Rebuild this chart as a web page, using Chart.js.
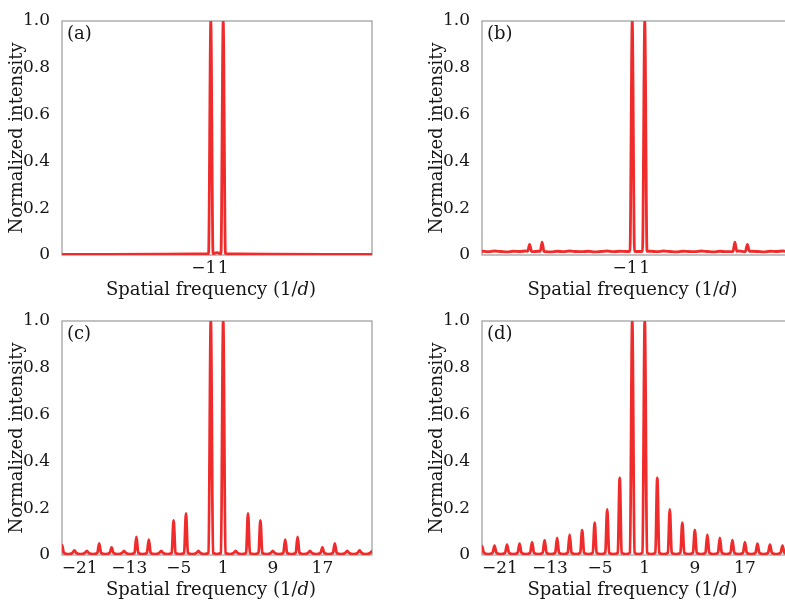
<!DOCTYPE html>
<html>
<head>
<meta charset="utf-8">
<script src="https://cdn.jsdelivr.net/npm/chart.js@4.4.0/dist/chart.umd.min.js"></script>
<style>
    html, body { margin: 0; padding: 0; background: #fff; overflow: hidden; width: 785px; height: 601px; }
    #wrap { position: relative; width: 785px; height: 601px; overflow: hidden; }
    canvas { position: absolute; }
</style>
</head>
<body>
<div id="wrap">
    <canvas id="panelA" width="390" height="300" style="left:0;top:0"></canvas>
    <canvas id="panelB" width="393" height="300" style="left:420px;top:0"></canvas>
    <canvas id="panelC" width="390" height="300" style="left:0;top:300px"></canvas>
    <canvas id="panelD" width="393" height="300" style="left:420px;top:300px"></canvas>
</div>
<script>
// axis ranges and ticks
const xMin = -25, xMax = 25;
const yTicks = [0, 0.2, 0.4, 0.6, 0.8, 1.0];
const xTicksTop = [-1, 1];
const xTicksBottom = [-21, -13, -5, 1, 9, 17];

// (a) only the two first orders
const peakXA = [-1, 1];
const peakYA = [1, 1];
const valleyXA = [-25, 0, 25];
const valleyYA = [0.003, 0.01, 0.003];

// (b) noisy floor with two weak satellite pairs
const peakXB = [-17.4, -15.4, -1, 1, 15.4, 17.4];
const peakYB = [0.045, 0.055, 1, 1, 0.055, 0.045];
const valleyXB = [-25, -24, -23, -22, -21, -20, -19, -18, -17, -16, -15, -14, -13, -12, -11, -10, -9, -8, -7, -6, -5, -4, -3, -2,
    0, 2, 3, 4, 5, 6, 7, 8, 9, 10, 11, 12, 13, 14, 15, 16, 17, 18, 19, 20, 21, 22, 23, 24, 25];
const valleyYB = [0.016, 0.014, 0.017, 0.015, 0.013, 0.016, 0.015, 0.017, 0.014, 0.016, 0.015, 0.013, 0.016, 0.014, 0.017, 0.015, 0.014, 0.016, 0.013, 0.015, 0.017, 0.014, 0.016, 0.015,
    0.015, 0.016, 0.014, 0.017, 0.015, 0.013, 0.016, 0.015, 0.014, 0.017, 0.015, 0.013, 0.016, 0.014, 0.015, 0.017, 0.014, 0.016, 0.015, 0.013, 0.016, 0.015, 0.017, 0.014, 0.016];

// (c) odd orders, irregular envelope
const peakXC = [-25, -23, -21, -19, -17, -15, -13, -11, -9, -7, -5, -3, -1, 1, 3, 5, 7, 9, 11, 13, 15, 17, 19, 21, 23, 25];
const peakYC = [0.042, 0.02, 0.018, 0.05, 0.032, 0.018, 0.077, 0.066, 0.018, 0.148, 0.178, 0.018, 1, 1, 0.018, 0.178, 0.148, 0.018, 0.066, 0.077, 0.018, 0.032, 0.05, 0.018, 0.02, 0.015];
const valleyXC = [-24, -22, -20, -18, -16, -14, -12, -10, -8, -6, -4, -2, 0, 2, 4, 6, 8, 10, 12, 14, 16, 18, 20, 22, 24];
const valleyYC = [0.004, 0.004, 0.004, 0.004, 0.004, 0.004, 0.004, 0.004, 0.004, 0.004, 0.004, 0.004, 0.004, 0.004, 0.004, 0.004, 0.004, 0.004, 0.004, 0.004, 0.004, 0.004, 0.004, 0.004, 0.004];

// (d) odd orders, smoothly decaying envelope
const peakXD = [-25, -23, -21, -19, -17, -15, -13, -11, -9, -7, -5, -3, -1, 1, 3, 5, 7, 9, 11, 13, 15, 17, 19, 21, 23, 25];
const peakYD = [0.038, 0.04, 0.044, 0.049, 0.055, 0.063, 0.073, 0.087, 0.106, 0.138, 0.195, 0.33, 1, 1, 0.33, 0.195, 0.138, 0.106, 0.087, 0.073, 0.063, 0.055, 0.049, 0.044, 0.04, 0.038];
const valleyXD = valleyXC;
const valleyYD = [0.004, 0.004, 0.004, 0.004, 0.004, 0.004, 0.004, 0.004, 0.004, 0.004, 0.004, 0.004, 0.004, 0.004, 0.004, 0.004, 0.004, 0.004, 0.004, 0.004, 0.004, 0.004, 0.004, 0.004, 0.004];

const RED = '#ef2b2b';
const INK = '#161616';
const FRAME = '#9a9a9a';
const FONT = 'DejaVu Serif';

function buildCurve(px, py, vx, vy, foot) {
    const pts = vx.map((x, i) => ({ x, y: vy[i] }));
    px.forEach((x, i) => {
        const half = py[i] >= 1 ? 0.36 : 0.3;
        pts.push({ x: x - half, y: foot }, { x, y: py[i] }, { x: x + half, y: foot });
    });
    return pts.sort((a, b) => a.x - b.x);
}

const fmtY = (v) => (v === 0 ? '0' : v.toFixed(1));

const framePlugin = {
    id: 'frame',
    beforeDatasetsDraw(chart) {
        const a = chart.chartArea, c = chart.ctx;
        c.save();
        c.strokeStyle = FRAME;
        c.lineWidth = 1.2;
        c.strokeRect(a.left, a.top, a.right - a.left, a.bottom - a.top);
        c.restore();
    }
};

// panel tag, x tick labels (digits centred on the tick, minus hanging left) and x title
const textPlugin = {
    id: 'texts',
    afterDraw(chart, args, opts) {
        const a = chart.chartArea, c = chart.ctx, xs = chart.scales.x;
        c.save();
        c.fillStyle = INK;
        c.textBaseline = 'middle';
        c.textAlign = 'left';
        c.font = `18px ${FONT}`;
        c.fillText(opts.tag, a.left + 5, a.top + 13);

        c.font = `17px ${FONT}`;
        const minusW = c.measureText('\u2212').width;
        opts.xTicks.forEach((v) => {
            const px = xs.getPixelForValue(v);
            const digits = String(Math.abs(v));
            const wd = c.measureText(digits).width;
            c.fillText(digits, px - wd / 2, a.bottom + 14);
            if (v < 0) c.fillText('\u2212', px - wd / 2 - minusW, a.bottom + 14);
        });

        const p1 = 'Spatial frequency (1/', p2 = 'd', p3 = ')';
        const nf = `18px ${FONT}`, itf = `italic 18px ${FONT}`;
        c.font = nf; const w1 = c.measureText(p1).width, w3 = c.measureText(p3).width;
        c.font = itf; const w2 = c.measureText(p2).width;
        let x = (a.left + a.right) / 2 - 6 - (w1 + w2 + w3) / 2;
        const y = a.bottom + 35;
        c.font = nf; c.fillText(p1, x, y); x += w1;
        c.font = itf; c.fillText(p2, x, y); x += w2;
        c.font = nf; c.fillText(p3, x, y);
        c.restore();
    }
};

function makeChart(id, tag, xTicks, points) {
    const el = document.getElementById(id);
    return new Chart(el.getContext('2d'), {
        type: 'line',
        data: {
            datasets: [{
                data: points,
                borderColor: RED,
                borderWidth: 2.8,
                pointRadius: 0,
                fill: false,
                cubicInterpolationMode: 'monotone'
            }]
        },
        options: {
            responsive: false,
            animation: false,
            events: [],
            layout: { padding: { top: 21, right: 18, left: 0, bottom: 0 } },
            plugins: { legend: { display: false }, tooltip: { enabled: false }, texts: { tag, xTicks } },
            scales: {
                x: {
                    type: 'linear', min: xMin, max: xMax,
                    grid: { display: false }, border: { display: false },
                    afterBuildTicks: (s) => { s.ticks = xTicks.map((v) => ({ value: v })); },
                    afterFit: (s) => { s.height = 45; },
                    ticks: { display: false }
                },
                y: {
                    min: 0, max: 1,
                    grid: { display: false }, border: { display: false },
                    afterBuildTicks: (s) => { s.ticks = yTicks.map((v) => ({ value: v })); },
                    afterFit: (s) => { s.width = 62; },
                    ticks: { padding: 4, color: INK, font: { family: FONT, size: 17 }, callback: fmtY },
                    title: { display: true, text: 'Normalized intensity', color: INK, font: { family: FONT, size: 18 }, padding: { top: 7, bottom: 0 } }
                }
            }
        },
        plugins: [framePlugin, textPlugin]
    });
}

makeChart('panelA', '(a)', xTicksTop, buildCurve(peakXA, peakYA, valleyXA, valleyYA, 0.006));
makeChart('panelB', '(b)', xTicksTop, buildCurve(peakXB, peakYB, valleyXB, valleyYB, 0.016));
makeChart('panelC', '(c)', xTicksBottom, buildCurve(peakXC, peakYC, valleyXC, valleyYC, 0.009));
makeChart('panelD', '(d)', xTicksBottom, buildCurve(peakXD, peakYD, valleyXD, valleyYD, 0.01));
</script>
</body>
</html>
